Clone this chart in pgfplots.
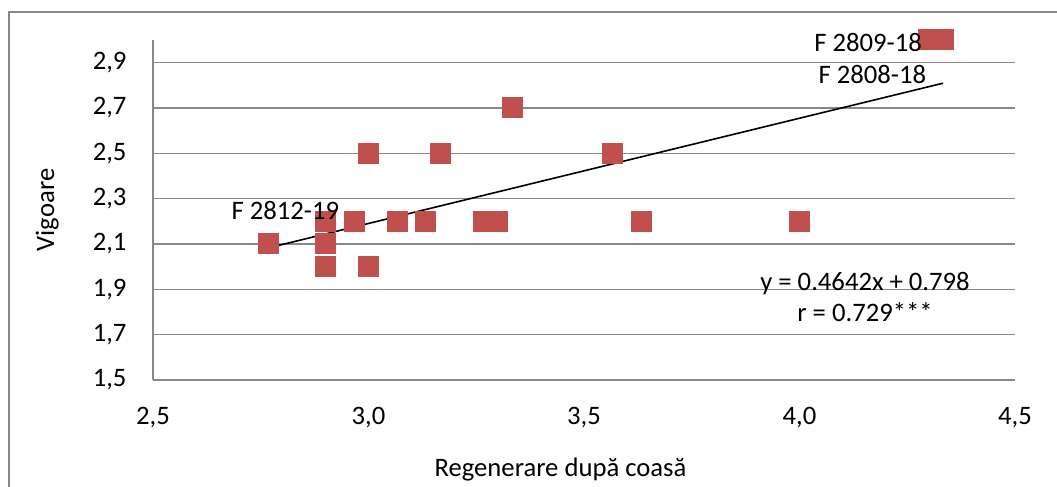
\documentclass[border=0pt]{standalone}
\usepackage{fontspec}
\setmainfont{Carlito}
\usepackage{pgfplots}
\pgfplotsset{compat=1.18}
\definecolor{mk}{HTML}{C0504D}
\definecolor{gr}{HTML}{888888}
\begin{document}
\begin{tikzpicture}
\useasboundingbox (0,0) rectangle (396.375pt,182.625pt);
\draw[gr, line width=0.6pt] (3.375pt,-2pt) -- (3.375pt,178.125pt) -- (400pt,178.125pt);
\begin{axis}[
  at={(57.375pt,40.125pt)}, anchor=south west,
  scale only axis, width=323.25pt, height=127.5pt,
  xmin=2.5, xmax=4.5, ymin=1.5, ymax=3.0,
  xtick={2.5,3.0,3.5,4.0,4.5},
  ytick={1.5,1.7,1.9,2.1,2.3,2.5,2.7,2.9},
  axis x line*=bottom, axis y line*=left,
  axis line style={gr, line width=0.6pt, -},
  major tick length=0pt,
  ymajorgrids, major grid style={gr, line width=0.6pt},
  /pgf/number format/assume math mode=true,
  /pgf/number format/.cd, use comma, fixed, fixed zerofill, precision=1,
  /pgfplots/.cd,
  tick label style={font=\fontsize{10pt}{12pt}\selectfont, inner sep=0pt},
  yticklabel style={xshift=-9.75pt},
  xticklabel style={yshift=-10.1pt},
  xlabel={Regenerare după coasă},
  ylabel={Vigoare},
  label style={font=\fontsize{10pt}{12pt}\selectfont, inner sep=0pt},
  xlabel style={at={(axis description cs:0.4727,-0.2824)}, anchor=base},
  ylabel style={at={(axis description cs:-0.1148,0.5)}, anchor=base, rotate=0},
  clip=false,
]
\addplot[only marks, mark=square*, mark size=3.75pt, color=mk, mark options={line width=0pt, draw=mk, fill=mk}] coordinates {
(2.767,2.1) (2.9,2.2) (2.9,2.1) (2.9,2.0) (2.967,2.2) (3.0,2.5) (3.0,2.0)
(3.067,2.2) (3.133,2.2) (3.167,2.5) (3.267,2.2) (3.3,2.2) (3.333,2.7)
(3.567,2.5) (3.633,2.2) (4.0,2.2) (4.3,3.0) (4.333,3.0)};
\addplot[black, line width=0.6pt] coordinates {(2.767,2.0824) (4.333,2.8094)};
\addplot[only marks, mark=none, black, nodes near coords, point meta=explicit symbolic,
  every node near coord/.append style={anchor=base, inner sep=0pt, black, font=\fontsize{10pt}{12pt}\selectfont}]
coordinates {
(4.159,2.951) [F 2809-18]
(4.169,2.810) [F 2808-18]
(2.807,2.206) [F 2812-19]
(4.152,1.897) [y = 0.4642x + 0.798]
(4.152,1.756) [r = 0.729***]
};
\end{axis}
\end{tikzpicture}
\end{document}
